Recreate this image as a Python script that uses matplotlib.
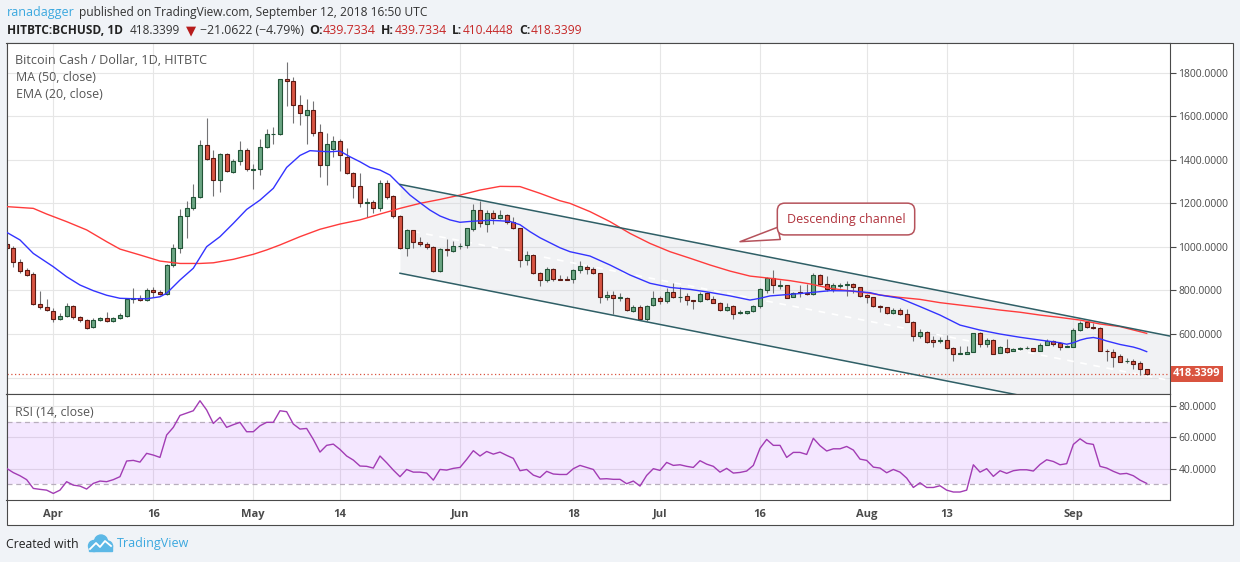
import matplotlib
matplotlib.use("Agg")
import matplotlib.pyplot as plt
import numpy as np
import pandas as pd
from matplotlib.patches import Rectangle, Ellipse

plt.rcParams["font.family"] = ["Open Sans", "DejaVu Sans"]

W, H = 1240, 562

# HITBTC BCHUSD daily candles, 2018-03-25 .. 2018-09-12
first_day = "2018-03-25"
origin = pd.Timestamp("2018-04-01")

opens = [
    1015, 993, 931, 892, 874, 736, 722,
    707, 667, 681, 730, 677, 663, 631, 664, 672, 658,
    672, 684, 759, 764, 755, 802, 793, 782, 917, 993,
    1142, 1177, 1229, 1466, 1407, 1306, 1425, 1342, 1393, 1445,
    1353, 1356, 1457, 1518, 1518, 1769, 1760, 1650, 1604, 1629,
    1526, 1378, 1450, 1485, 1414, 1341, 1278, 1200, 1205, 1177,
    1292, 1232, 1140, 996, 1076, 1021, 1012, 998, 889, 989,
    983,
    1003, 1007, 1080, 1168, 1103, 1154, 1131, 1146, 1113, 1085,
    941, 961, 879, 846, 897, 851, 851, 851, 894, 909,
    897, 879, 770, 779, 766, 767, 706, 724, 667, 732,
    767, 750, 791, 770, 773, 755, 750, 788, 761, 744,
    709, 729, 697, 695, 704, 729, 802, 856, 822, 823,
    770, 791, 790, 782, 869, 828, 805, 820, 823, 831,
    814,
    777, 770, 730, 722, 695, 710, 690, 657, 589, 608,
    572, 569, 572, 534, 510, 510, 517, 606, 553, 572,
    512, 536, 521, 532, 535, 536, 523, 549, 566, 557,
    542,
    542, 618, 653, 630, 626, 523, 519, 497, 475, 478, 465, 439.7334,
]
highs = [
    1030, 1004, 943, 902, 883, 797, 761,
    718, 698, 742, 733, 684, 669, 675, 678, 701, 680,
    695, 764, 813, 777, 813, 817, 802, 920, 1012, 1172,
    1212, 1289, 1491, 1590, 1445, 1430, 1430, 1405, 1488, 1453,
    1381, 1494, 1540, 1552, 1770, 1851, 1779, 1698, 1679, 1670,
    1563, 1525, 1509, 1497, 1453, 1343, 1341, 1225, 1215, 1307,
    1307, 1238, 1145, 1081, 1078, 1047, 1021, 1004, 993, 1036,
    1027,
    1019, 1087, 1197, 1212, 1169, 1169, 1169, 1151, 1139, 1087,
    981, 966, 883, 906, 902, 871, 868, 897, 935, 915,
    906, 881, 796, 796, 790, 769, 732, 732, 731, 798,
    775, 810, 836, 817, 790, 756, 791, 791, 775, 747,
    741, 731, 710, 707, 732, 810, 863, 894, 848, 825,
    793, 823, 830, 879, 874, 867, 833, 834, 842, 834,
    815,
    785, 771, 735, 723, 718, 718, 716, 658, 623, 612,
    591, 588, 595, 542, 545, 545, 604, 609, 582, 576,
    545, 579, 536, 542, 545, 537, 557, 576, 572, 563,
    548,
    626, 660, 660, 649, 631, 530, 530, 508, 490, 487, 478, 439.7334,
]
lows = [
    985, 906, 879, 866, 733, 713, 706,
    657, 664, 677, 669, 654, 624, 629, 661, 654, 655,
    669, 677, 744, 753, 753, 768, 779, 779, 906, 970,
    1039, 1169, 1226, 1399, 1235, 1251, 1345, 1341, 1378, 1349,
    1264, 1330, 1455, 1472, 1516, 1649, 1571, 1560, 1472, 1511,
    1322, 1283, 1414, 1347, 1336, 1226, 1185, 1136, 1157, 1166,
    1218, 1131, 989, 960, 996, 1006, 989, 883, 883, 960,
    975,
    992, 996, 1071, 1090, 1067, 1104, 1129, 1104, 1083, 909,
    918, 876, 822, 837, 842, 848, 846, 833, 879, 874,
    877, 744, 756, 690, 752, 707, 701, 664, 658, 730,
    738, 744, 767, 749, 732, 716, 749, 758, 742, 707,
    707, 670, 690, 692, 701, 721, 787, 790, 807, 765,
    768, 770, 779, 779, 825, 797, 794, 810, 775, 790,
    768,
    741, 726, 703, 692, 694, 686, 654, 569, 582, 557,
    542, 557, 530, 477, 508, 507, 516, 542, 542, 509,
    511, 511, 520, 527, 530, 522, 522, 548, 545, 527,
    540,
    541, 615, 626, 625, 522, 477, 450, 470, 465, 438, 412, 410.4448,
]
closes = [
    995, 929, 891, 872, 736, 722, 709,
    667, 681, 727, 677, 663, 629, 663, 673, 658, 672,
    686, 761, 764, 755, 802, 793, 782, 917, 993, 1142,
    1177, 1229, 1466, 1405, 1306, 1425, 1347, 1393, 1445, 1356,
    1356, 1457, 1518, 1520, 1769, 1760, 1650, 1613, 1629, 1522,
    1375, 1471, 1485, 1422, 1338, 1281, 1200, 1205, 1177, 1292,
    1231, 1140, 996, 1076, 1021, 1012, 998, 889, 989, 984,
    1003,
    1004, 1085, 1168, 1108, 1154, 1131, 1146, 1113, 1085, 938,
    961, 879, 846, 897, 851, 849, 848, 892, 912, 897,
    879, 770, 779, 764, 768, 709, 724, 667, 729, 764,
    750, 791, 770, 772, 756, 750, 782, 761, 744, 709,
    724, 690, 699, 704, 729, 805, 856, 825, 824, 767,
    790, 789, 782, 869, 830, 805, 823, 823, 831, 814,
    775,
    770, 730, 722, 695, 710, 690, 657, 589, 608, 565,
    562, 572, 534, 510, 512, 517, 603, 553, 572, 510,
    540, 519, 530, 534, 537, 523, 549, 566, 556, 539,
    545,
    618, 649, 630, 628, 523, 521, 496, 473, 477, 464, 439.4, 418.3399,
]

# indicator lines (x = days since 2018-04-01)
ema20_day = [-7, -5, -3, 0, 2, 4, 6, 8, 10, 12,
             14, 16, 17, 19, 21, 23, 25, 27, 29, 31,
             33, 35, 37, 38.5, 40, 41.5, 43, 44.5, 46, 47.5,
             49, 50.5, 52, 53.5, 55, 56.5, 58, 59.5, 61, 62.5,
             64, 65.5, 67, 68.5, 70, 71.5, 73, 74.5, 76, 77.5,
             79, 80.5, 83.5, 86.5, 89.5, 92.5, 95.5, 98.5, 101.5, 104.5,
             106, 107.5, 110.5, 113.5, 116.5, 119.5, 122.5, 124, 127, 130,
             133, 136, 139, 142, 145, 148, 151, 152, 153, 154,
             155, 156, 157, 158, 160, 162, 163, 164]
ema20_val = [1067, 1032, 970, 909, 863, 825, 799, 778, 764, 762,
             762, 771, 787, 848, 902, 1001, 1047, 1108, 1172, 1215,
             1269, 1365, 1420, 1442, 1439, 1437, 1440, 1414, 1391, 1365,
             1353, 1330, 1284, 1238, 1203, 1169, 1142, 1124, 1113, 1117,
             1120, 1122, 1120, 1117, 1102, 1070, 1042, 1019, 996, 978,
             968, 958, 917, 871, 833, 814, 805, 791, 775, 756,
             764, 775, 782, 790, 799, 798, 790, 779, 764, 726,
             687, 641, 618, 600, 585, 572, 560, 553, 560, 572,
             580, 584, 578, 568, 552, 540, 531, 519]
ma50_day = [-7, -3, -1, 2, 5, 8, 10, 13, 16, 19,
            22, 24, 27, 30, 32, 34, 37, 40, 43, 46,
            49, 52, 55, 58, 61, 64, 67, 70, 73, 76,
            77.5, 80.5, 83.5, 86.5, 89.5, 92.5, 95.5, 98.5, 101.5, 104.5,
            107.5, 110.5, 113.5, 116.5, 119.5, 122.5, 124, 127, 130, 133,
            136, 139, 142, 145, 148, 151, 154, 157, 160, 164]
ma50_val = [1185, 1177, 1151, 1116, 1078, 1024, 990, 963, 935, 924,
            924, 927, 943, 966, 986, 1009, 1047, 1081, 1105, 1124,
            1151, 1177, 1200, 1218, 1238, 1261, 1278, 1277, 1246, 1212,
            1200, 1162, 1116, 1062, 1016, 978, 948, 917, 889, 866,
            856, 845, 830, 810, 798, 787, 779, 768, 759, 744,
            733, 722, 710, 700, 687, 676, 664, 646, 634, 603]

# RSI(14), one value per candle
rsi14 = [
    40.2, 37.5, 35.5, 33.0, 27.4, 26.8, 26.3,
    24.2, 26.3, 31.7, 29.5, 28.9, 27.0, 30.6, 32.1, 31.7, 33.0,
    34.9, 44.9, 45.3, 44.2, 49.8, 48.7, 47.2, 61.5, 66.4, 74.0,
    75.5, 77.0, 83.4, 77.5, 68.9, 72.8, 66.4, 68.1, 69.6, 63.6,
    63.6, 67.4, 69.6, 69.6, 77.0, 76.4, 68.5, 65.3, 65.7, 58.7,
    50.6, 54.9, 55.7, 52.3, 48.1, 45.5, 41.7, 41.5, 40.4, 48.1,
    43.8, 39.1, 34.9, 39.5, 37.8, 37.8, 37.2, 32.7, 39.5, 39.1,
    40.2, 40.8, 45.9, 51.5, 48.1, 51.0, 49.3, 50.6, 48.5, 46.6,
    38.7, 39.5, 35.9, 34.4, 38.3, 36.6, 36.3, 36.3, 40.0, 42.1,
    40.8, 39.5, 33.4, 33.6, 33.2, 33.2, 30.4, 32.1, 28.9, 35.7,
    40.0, 38.9, 44.0, 42.1, 42.5, 41.5, 40.8, 45.1, 42.9, 41.5,
    37.8, 40.2, 37.2, 37.6, 38.5, 42.1, 53.0, 58.7, 54.9, 54.9,
    47.2, 50.4, 50.4, 49.1, 59.4, 54.7, 51.3, 52.7, 52.7, 54.2,
    51.9, 46.1, 45.3, 41.0, 40.4, 37.4, 39.5, 37.8, 34.0, 28.0,
    31.0, 28.0, 28.0, 29.1, 26.3, 25.1, 25.1, 26.3, 42.5, 37.8,
    40.0, 35.1, 38.7, 37.0, 38.7, 39.3, 39.3, 38.5, 42.7, 45.7,
    44.6, 42.5, 43.2, 55.5, 59.1, 56.2, 55.5, 41.5, 40.4, 38.3,
    36.6, 37.0, 35.5, 32.7, 30.6,
]

tick_dates = ["2018-04-01", "2018-04-16", "2018-05-01", "2018-05-14", "2018-06-01",
              "2018-06-18", "2018-07-01", "2018-07-16", "2018-08-01", "2018-08-13",
              "2018-09-01"]
tick_labels = ["Apr", "16", "May", "14", "Jun", "18", "Jul", "16", "Aug", "13", "Sep"]
price_ticks = [400, 600, 800, 1000, 1200, 1400, 1600, 1800]
rsi_ticks = [40, 60, 80]

# hand-drawn descending channel (start day, prices, slope per day)
channel_start = "2018-05-23"
channel_top_start = 1287
channel_bottom_start = 879
channel_slope = -6.03

# callout "Descending channel"
callout_tip = ("2018-07-13", 1024)
callout_center = ("2018-07-28", 1128)

dates = pd.date_range(first_day, periods=len(closes), freq="D")
x = (dates - origin).days.to_numpy().astype(float)
o, h, l, c = (np.asarray(v, dtype=float) for v in (opens, highs, lows, closes))
up = c >= o


def day_of(s):
    return (pd.Timestamp(s) - origin).days


def box(left, top, right, bottom):
    return [left / W, 1 - bottom / H, (right - left) / W, (bottom - top) / H]


fig = plt.figure(figsize=(W / 100, H / 100), dpi=100, facecolor="#f0f3f7")
renderer = fig.canvas.get_renderer()

bg = fig.add_axes([0, 0, 1, 1], zorder=0)
bg.set_xlim(0, W)
bg.set_ylim(H, 0)
bg.axis("off")
bg.add_patch(Rectangle((6.5, 43), 1233 - 6.5, 525 - 43, fc="white", ec="#4a4a4a", lw=0.8))

ax = fig.add_axes(box(6.5, 43, 1170, 394), zorder=1)
ax_rsi = fig.add_axes(box(6.5, 394, 1170, 500), zorder=1, sharex=ax)
xmax = (1170 - 53.3) / 6.667
ax.set_xlim(-7.02, xmax)

# channel background + lines
cx0 = day_of(channel_start)
cx = np.array([cx0, xmax])
top = channel_top_start + channel_slope * (cx - cx0)
bot = channel_bottom_start + channel_slope * (cx - cx0)
ax.fill_between(cx, bot, top, color="#d1d4dc", alpha=0.3, lw=0, zorder=1)
ax.plot(cx, (top + bot) / 2, color="white", lw=1.2, ls=(0, (4, 4)), zorder=1.5)

# last price dotted line
ax.axhline(c[-1], color="#d9533f", lw=0.9, ls=(0, (1, 2)), zorder=1.6)

# candles
ax.vlines(x, l, h, color="#737375", lw=0.8, zorder=2)
ax.bar(x, c - o, bottom=o, width=0.62,
       color=np.where(up, "#6ba583", "#d75442"),
       edgecolor=np.where(up, "#225437", "#5b1a13"), linewidth=0.8, zorder=2.5)

ax.plot(ma50_day, ma50_val, color="#ff3b3b", lw=1.0, zorder=3)
ax.plot(ema20_day, ema20_val, color="#3333ff", lw=1.0, zorder=3)

ax.plot(cx, top, color="#2f5f66", lw=1.1, zorder=4)
ax.plot(cx, bot, color="#2f5f66", lw=1.1, zorder=4)

ax.annotate("Descending channel",
            xy=(day_of(callout_tip[0]), callout_tip[1]),
            xytext=(day_of(callout_center[0]) + 0.9, callout_center[1]),
            ha="center", va="center", color="#b0323c", fontsize=9,
            bbox=dict(boxstyle="round,pad=0.75,rounding_size=0.6", fc="white", ec="#b5525b", lw=1.1),
            arrowprops=dict(arrowstyle="wedge,tail_width=1.0,shrink_factor=0.5",
                            fc="white", ec="#b5525b", lw=1.1, shrinkA=0, shrinkB=0),
            zorder=5)

ax.text(1.0026, c[-1], f"{c[-1]:.4f}", transform=ax.get_yaxis_transform(),
        ha="left", va="center", color="white", fontsize=8, fontweight="bold",
        bbox=dict(boxstyle="square,pad=0.22", fc="#d9533f", ec="none"), clip_on=False, zorder=6)

ax.set_ylim(324.5, 1936.4)
ax.yaxis.tick_right()
ax.set_yticks(price_ticks)
ax.set_yticklabels(["" if v == 400 else f"{v:.4f}" for v in price_ticks])
ax.tick_params(axis="y", length=4, width=0.8, color="#4a4a4a", labelsize=7.5,
               labelcolor="#4a4a4a", pad=2)
ax.tick_params(axis="x", length=0, labelbottom=False)

# RSI panel
ax_rsi.set_ylim(20.0, 87.7)
ax_rsi.axhspan(30, 70, color="#9915ff", alpha=0.1, lw=0, zorder=1)
for lvl in (70, 30):
    ax_rsi.axhline(lvl, color="#b8aebd", lw=0.9, ls=(0, (4, 3)), zorder=1.5)
ax_rsi.plot(x, rsi14, color="#a23cb4", lw=1.0, zorder=3)
ax_rsi.yaxis.tick_right()
ax_rsi.set_yticks(rsi_ticks)
ax_rsi.set_yticklabels([f"{v:.4f}" for v in rsi_ticks])
ax_rsi.tick_params(axis="y", length=4, width=0.8, color="#4a4a4a", labelsize=7.5,
                   labelcolor="#4a4a4a", pad=2)
ax_rsi.set_xticks([day_of(d) for d in tick_dates])
ax_rsi.set_xticklabels(tick_labels, fontweight="bold", fontsize=8, color="#4a4a4a")
ax_rsi.tick_params(axis="x", length=0, pad=6.5)

for a in (ax, ax_rsi):
    a.set_facecolor("white")
    a.grid(True, color="#e6e6e6", lw=0.8)
    a.set_axisbelow(True)
    for sp in a.spines.values():
        sp.set_color("#4a4a4a")
        sp.set_linewidth(0.8)


def fit_text(s, x0, x1, y, **kw):
    t = fig.text(x0 / W, 1 - y / H, s, ha="left", va="center", fontsize=10, **kw)
    width = t.get_window_extent(renderer).width
    t.set_fontsize(10 * (x1 - x0) / width)
    return t


# header
fit_text("ranadagger", 7, 74, 12.5, color="#3ba8df")
fit_text("published on TradingView.com, September 12, 2018 16:50 UTC", 79, 431, 12.5, color="#333333")
fit_text("HITBTC:BCHUSD, 1D", 7, 123, 30.5, color="#222222", fontweight="bold")
fit_text("418.3399", 130, 180, 30.5, color="#333333")
fit_text("\u25bc", 186, 196, 31, color="#b71c1c", family=["DejaVu Sans"])
fit_text("\u221221.0622 (\u22124.79%)", 200, 304, 30.5, color="#333333")
for lab, lx0, val, vx0, vx1 in [("O:", 309, "439.7334", 323, 376),
                                 ("H:", 381, "439.7334", 395, 447),
                                 ("L:", 452, "410.4448", 463, 514),
                                 ("C:", 519, "418.3399", 531, 583)]:
    vt = fit_text(val, vx0, vx1, 30.5, color="#c62828")
    fig.text(lx0 / W, 1 - 30.5 / H, lab, ha="left", va="center", color="#222222",
             fontweight="bold", fontsize=vt.get_fontsize())

# chart legends
fit_text("Bitcoin Cash / Dollar, 1D, HITBTC", 15, 206, 61, color="#555555")
fit_text("MA (50, close)", 15.7, 95, 77.5, color="#555555")
fit_text("EMA (20, close)", 15.7, 101.7, 94.5, color="#555555")
fit_text("RSI (14, close)", 15, 93, 412, color="#555555")

# footer
fit_text("Created with", 6, 79, 544, color="#222222")
fit_text("TradingView", 117, 189, 544, color="#3ba8df")
logo_blue = "#5cb8e6"
for lx, ly, r in [(94, 546, 5.5), (101, 541.5, 6.5), (107.5, 546, 5)]:
    bg.add_patch(Ellipse((lx, ly), 2 * r, 2 * r, color=logo_blue))
bg.add_patch(Rectangle((89, 545), 23, 6, color=logo_blue))
bg.plot([90, 96, 100, 105, 111], [549, 543, 547, 541, 546], color="white", lw=1.3)

fig.savefig("out.png", dpi=100, facecolor=fig.get_facecolor())
